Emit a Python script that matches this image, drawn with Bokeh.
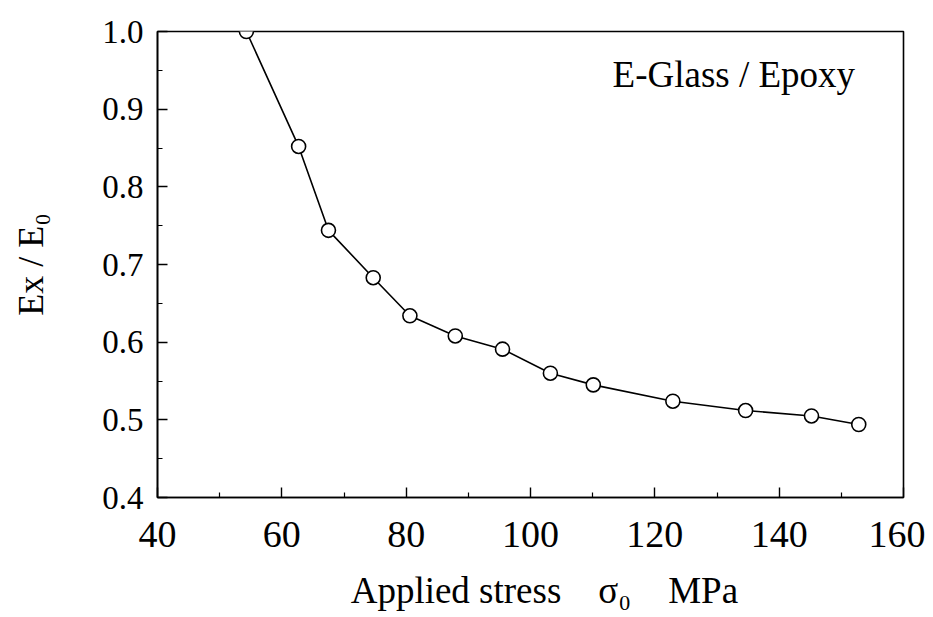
from bokeh.plotting import figure
from bokeh.models import FixedTicker, Label, Range1d, CustomJSTickFormatter
from bokeh.embed import file_html
from bokeh.resources import INLINE

# data
stress = [54.3, 62.7, 67.5, 74.7, 80.6, 87.9, 95.5, 103.2, 110.1, 122.9, 134.6, 145.2, 152.8]
ratio = [1.000, 0.852, 0.744, 0.683, 0.634, 0.608, 0.591, 0.560, 0.545, 0.524, 0.512, 0.505, 0.494]

x_major = [40, 60, 80, 100, 120, 140, 160]
x_minor = [50, 70, 90, 110, 130, 150]
y_major = [0.4, 0.5, 0.6, 0.7, 0.8, 0.9, 1.0]
y_minor = [0.45, 0.55, 0.65, 0.75, 0.85, 0.95]

FONT = "Liberation Serif"
NB = "\u00a0"

p = figure(width=925, height=615, output_backend="svg", toolbar_location=None,
           x_range=Range1d(40, 160), y_range=Range1d(0.4, 1.0),
           min_border_left=157, min_border_right=22, min_border_top=31, min_border_bottom=118)

p.xgrid.visible = False
p.ygrid.visible = False
p.outline_line_color = "black"
p.outline_line_width = 1.6
p.background_fill_color = "white"
p.border_fill_color = "white"

p.xaxis.ticker = FixedTicker(ticks=x_major, minor_ticks=x_minor)
p.yaxis.ticker = FixedTicker(ticks=y_major, minor_ticks=y_minor)
p.yaxis.formatter = CustomJSTickFormatter(code="return tick.toFixed(1);")

for ax in (p.xaxis[0], p.yaxis[0]):
    ax.axis_line_color = "black"
    ax.axis_line_width = 1.6
    ax.major_tick_in = 10
    ax.major_tick_out = 0
    ax.minor_tick_in = 5
    ax.minor_tick_out = 0
    ax.major_tick_line_width = 1.4
    ax.minor_tick_line_width = 1.2
    ax.major_tick_line_color = "black"
    ax.minor_tick_line_color = "black"
    ax.major_label_text_font = FONT
    ax.major_label_text_color = "black"
    ax.axis_label_text_font = FONT
    ax.axis_label_text_font_style = "normal"
    ax.axis_label_text_color = "black"

p.xaxis.major_label_text_font_size = "38px"
p.yaxis.major_label_text_font_size = "33px"
p.xaxis.major_label_standoff = 24
p.yaxis.major_label_standoff = 14
p.xaxis.axis_label = NB * 3 + "Applied stress" + NB * 4 + "σ\u2080" + NB * 4 + "MPa"
p.yaxis.axis_label = "Ex / E\u2080"
p.xaxis.axis_label_text_font_size = "37px"
p.yaxis.axis_label_text_font_size = "36px"
p.xaxis.axis_label_standoff = 20
p.yaxis.axis_label_standoff = 48

p.line(stress, ratio, line_color="black", line_width=1.6)
p.scatter(stress, ratio, marker="circle", size=14, fill_color="white",
          line_color="black", line_width=1.6)

label_x = 113.2
label_y = 0.944
p.add_layout(Label(x=label_x, y=label_y, text="E-Glass / Epoxy", text_font=FONT,
                   text_font_size="37px", text_color="black", text_baseline="alphabetic"))

open("out.html", "w").write(file_html(p, INLINE))
